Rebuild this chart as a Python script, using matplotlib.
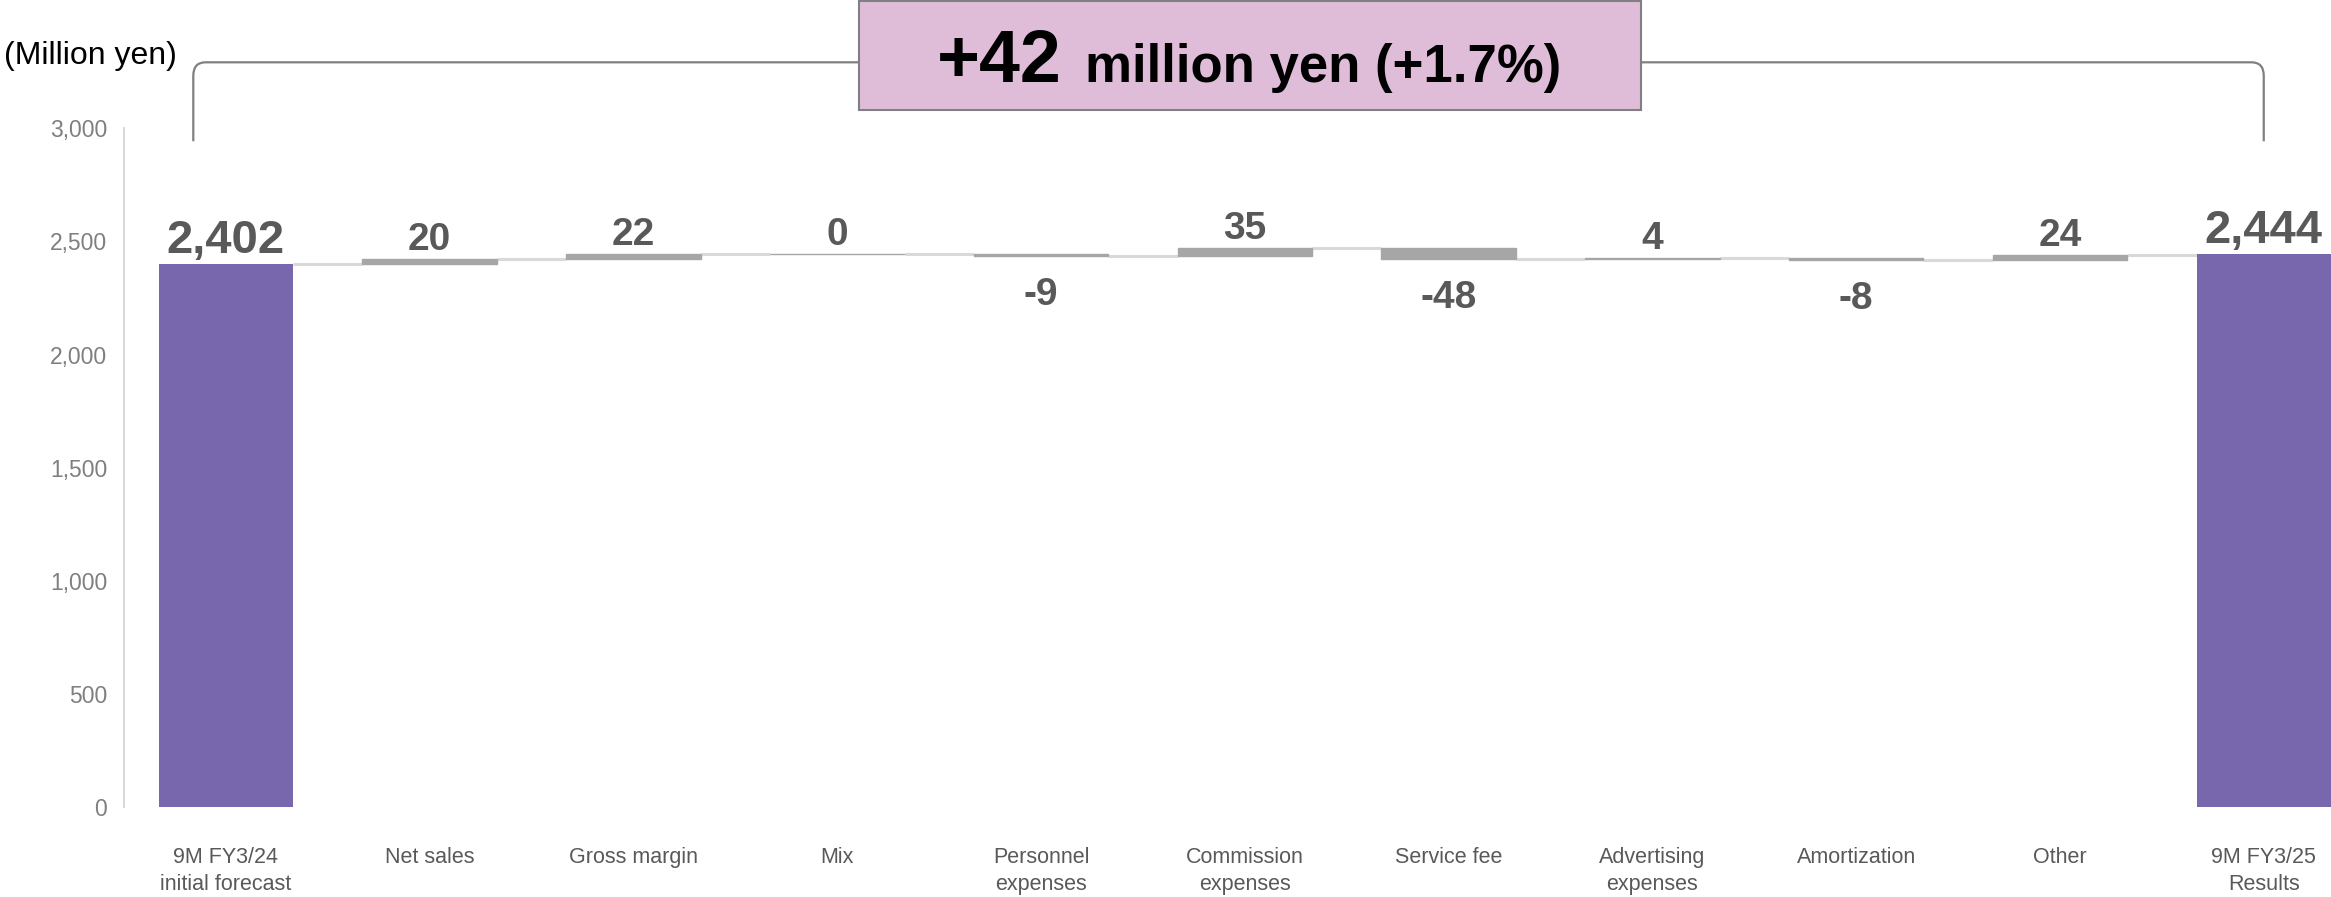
import matplotlib
matplotlib.use("Agg")
import matplotlib.pyplot as plt
from matplotlib.patches import Rectangle, PathPatch
from matplotlib.path import Path

plt.rcParams['font.family'] = ['Liberation Sans', 'DejaVu Sans']

categories = ["9M FY3/24\ninitial forecast", "Net sales", "Gross margin", "Mix",
              "Personnel\nexpenses", "Commission\nexpenses", "Service fee",
              "Advertising\nexpenses", "Amortization", "Other", "9M FY3/25\nResults"]
start_total = 2402
end_total = 2444
deltas = [20, 22, 0, -9, 35, -48, 4, -8, 24]
yticks = [0, 500, 1000, 1500, 2000, 2500, 3000]

total_color = "#7867ac"
delta_color = "#a6a6a6"
conn_color = "#d9d9d9"
label_color = "#595959"

fig = plt.figure(figsize=(23.31, 8.97), dpi=100)
ax = fig.add_axes([0.0532, 0.1003, 0.9468, 0.7566])

width = 0.66
xs = list(range(len(categories)))

# totals
ax.bar(xs[0], start_total, width, color=total_color, zorder=3)
ax.bar(xs[-1], end_total, width, color=total_color, zorder=3)
ax.annotate(f"{start_total:,}", (xs[0], start_total), xytext=(0, 8), textcoords="offset points",
            ha="center", va="baseline", fontsize=34, fontweight="bold", color=label_color)
ax.annotate(f"{end_total:,}", (xs[-1], end_total), xytext=(0, 8), textcoords="offset points",
            ha="center", va="baseline", fontsize=34, fontweight="bold", color=label_color)

# deltas
level = start_total
levels = [level]
for i, d in enumerate(deltas):
    x = xs[i + 1]
    bottom = level if d >= 0 else level + d
    ax.bar(x, abs(d), width, bottom=bottom, color=delta_color, edgecolor=delta_color,
           linewidth=1, zorder=3)
    if d >= 0:
        ax.annotate(f"{d}", (x, level + d), xytext=(0, 6.5), textcoords="offset points",
                    ha="center", va="baseline", fontsize=28, fontweight="bold", color=label_color)
    else:
        ax.annotate(f"{d}", (x, level + d), xytext=(0, -15), textcoords="offset points",
                    ha="center", va="top", fontsize=28, fontweight="bold", color=label_color)
    level += d
    levels.append(level)

# connectors
for i in range(len(xs) - 1):
    y = levels[i]
    ax.plot([xs[i] + width / 2, xs[i + 1] - width / 2], [y, y], color=conn_color,
            linewidth=2.2, zorder=2, solid_capstyle="butt")

ax.set_xlim(-0.5, 10.33)
ax.set_ylim(0, 3000)
ax.set_yticks(yticks)
ax.set_yticklabels([f"{v:,}" for v in yticks])
ax.set_xticks(xs)
ax.set_xticklabels(categories, linespacing=1.38)
ax.tick_params(axis="y", length=0, pad=12, labelsize=16.5, labelcolor="#7f7f7f")
ax.tick_params(axis="x", length=0, pad=29, labelsize=15.5, labelcolor=label_color)
for s in ["top", "right", "bottom"]:
    ax.spines[s].set_visible(False)
ax.spines["left"].set_color(conn_color)
ax.spines["left"].set_linewidth(1.5)

# bracket above the chart
xl, xr = -0.16, 10.0
yb, yt = 2943, 3292
rx, ry = 0.06, 60
verts = [(xl, yb), (xl, yt - ry), (xl, yt), (xl + rx, yt), (xr - rx, yt),
         (xr, yt), (xr, yt - ry), (xr, yb)]
codes = [Path.MOVETO, Path.LINETO, Path.CURVE3, Path.CURVE3, Path.LINETO,
         Path.CURVE3, Path.CURVE3, Path.LINETO]
ax.add_patch(PathPatch(Path(verts, codes), facecolor="none", edgecolor="#808080",
                       linewidth=1.6, clip_on=False, zorder=1))

# summary box
fig.patches.append(Rectangle((859 / 2331, 1 - 110 / 897), 782 / 2331, 109 / 897,
                             transform=fig.transFigure, facecolor="#dfbdd8",
                             edgecolor="#808080", linewidth=1.5, zorder=5))
fig.text(1062 / 2331, 1 - 82 / 897, "+42", ha="right", va="baseline", fontsize=53,
         fontweight="bold", color="black", zorder=6)
fig.text(1085 / 2331, 1 - 82 / 897, "million yen (+1.7%)", ha="left", va="baseline",
         fontsize=38, fontweight="bold", color="black", zorder=6)

fig.text(4 / 2331, 1 - 56 / 897, "(Million yen)", ha="left", va="center", fontsize=23,
         color="black")

fig.savefig("out.png", dpi=100)
